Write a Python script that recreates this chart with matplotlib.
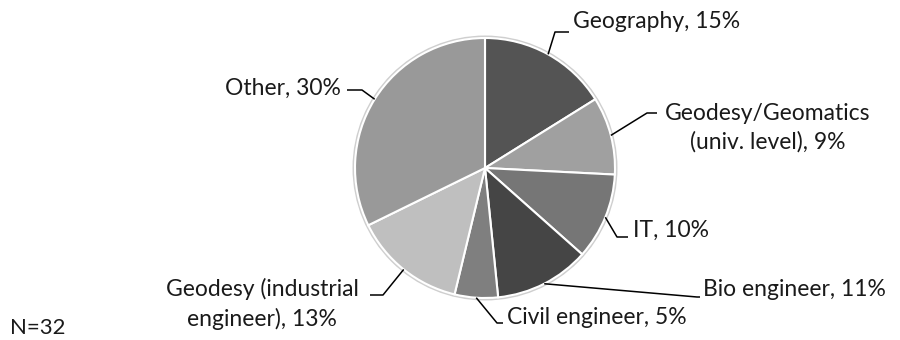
import numpy as np
import matplotlib.pyplot as plt
from matplotlib.patches import Circle

plt.rcParams['font.family'] = ['Lato', 'DejaVu Sans']

labels = ['Geography, 15%', 'Geodesy/Geomatics\n(univ. level), 9%', 'IT, 10%',
          'Bio engineer, 11%', 'Civil engineer, 5%',
          'Geodesy (industrial\nengineer), 13%', 'Other, 30%']
values = [15, 9, 10, 11, 5, 13, 30]
colors = ['#545454', '#a0a0a0', '#767676', '#454545', '#7f7f7f', '#bfbfbf', '#999999']

W, H = 900, 340
fig = plt.figure(figsize=(9, 3.4), dpi=100)
ax = fig.add_axes([0, 0, 1, 1])
ax.set_aspect('equal')

cx, cy, r = 485, H - 168, 130
ax.add_patch(Circle((cx, cy), r + 1.8, color='#cfcfcf', zorder=0))
wedges, _ = ax.pie(values, colors=colors, startangle=90, counterclock=False,
                   center=(cx, cy), radius=r, frame=True,
                   wedgeprops=dict(edgecolor='white', linewidth=1.5))
ax.set_xlim(0, W)
ax.set_ylim(0, H)
ax.axis('off')

# label placement in pixels (y from top): text position, alignment, leader path
lab_pos = [(573, 22, 'left'), (768, 128, 'center'), (633, 230, 'left'),
           (703, 289, 'left'), (507, 318, 'left'), (262, 304, 'center'),
           (341, 88, 'right')]
leaders = [[(555, 32), (569, 32)], [(647, 113), (657, 113)], [(617, 237), (628, 237)],
           [(697, 297), (700, 297)], [(497, 323), (503, 323)],
           [(383, 295), (370, 295)], [(362, 90), (347, 90)]]

for w, lab, (tx, ty, ha), pts in zip(wedges, labels, lab_pos, leaders):
    ang = np.deg2rad((w.theta1 + w.theta2) / 2)
    ax_x = cx + r * np.cos(ang)
    ax_y = cy + r * np.sin(ang)
    xs = [ax_x] + [p[0] for p in pts]
    ys = [ax_y] + [H - p[1] for p in pts]
    ax.plot(xs, ys, color='black', lw=1.1, solid_capstyle='butt')
    ax.text(tx, H - ty, lab, ha=ha, va='center', multialignment='center',
            fontsize=16.5, linespacing=1.4, color='#1a1a1a')

ax.text(10, H - 328, 'N=32', ha='left', va='center', fontsize=16, color='#1a1a1a')

fig.savefig('out.png', dpi=100)
